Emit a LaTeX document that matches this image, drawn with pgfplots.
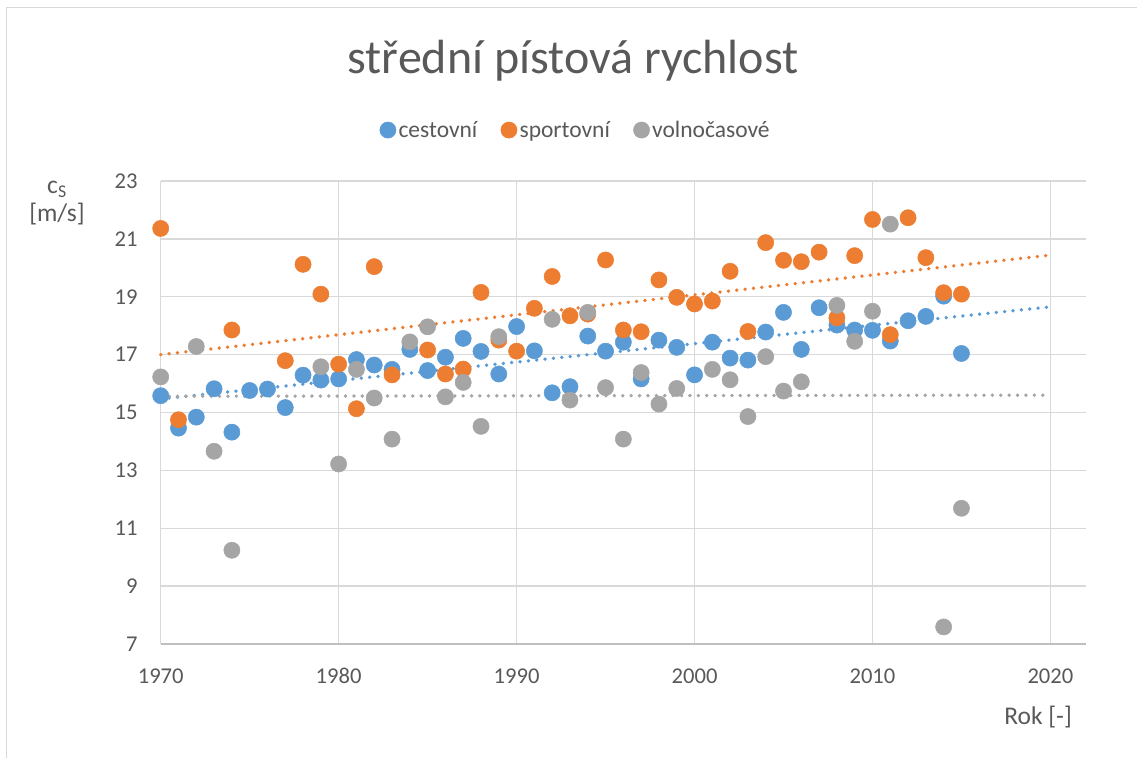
\documentclass[border=0pt]{standalone}
\usepackage{pgfplots}
\pgfplotsset{compat=1.18}
\usepackage{fontspec}
\setmainfont{Carlito}
\definecolor{cblue}{HTML}{5B9BD5}
\definecolor{corange}{HTML}{ED7D31}
\definecolor{cgray}{HTML}{A5A5A5}
\definecolor{txt}{HTML}{595959}
\definecolor{gridc}{HTML}{D9D9D9}
\definecolor{axc}{HTML}{BFBFBF}
\begin{document}
\begin{tikzpicture}[x=1bp,y=1bp]
\path[use as bounding box] (0,0) rectangle (1137,758);
\draw[gridc, line width=1bp] (6,0) -- (6,750) -- (1137,750);
\begin{axis}[
  at={(160.7bp,114bp)}, anchor=south west,
  scale only axis, width=925.3bp, height=463bp,
  xmin=1970, xmax=2022, ymin=7, ymax=23,
  xtick={1970,1980,...,2020}, ytick={7,9,...,23},
  axis x line*=bottom, axis y line*=left,
  x axis line style={axc, line width=1.3bp},
  y axis line style={gridc, line width=1.3bp},
  major tick length=0pt,
  grid=major, major grid style={gridc, line width=1.3bp},
  clip=false,
  /pgf/number format/.cd, 1000 sep={}, assume math mode=true, /pgfplots/.cd,
  ticklabel style={font=\fontsize{22.6bp}{27bp}\selectfont, text=txt},
  xticklabel style={anchor=center, inner sep=0pt, yshift=-31.8bp},
  yticklabel style={anchor=east, inner sep=0pt, xshift=-23bp},
  title={střední pístová rychlost},
  title style={at={(0.4456,1.2203)}, anchor=base, font=\fontsize{48bp}{50bp}\selectfont, text=txt},
  xlabel={Rok [-]},
  every axis x label/.style={at={(0.9849,-0.1749)}, anchor=base east, inner sep=0pt, font=\fontsize{25.5bp}{28bp}\selectfont, text=txt},
  ylabel={c\textsubscript{S}\\{}[m/s]},
  every axis y label/.style={at={(-0.1121,0.9518)}, anchor=center, align=center, inner sep=0pt, font=\fontsize{25.5bp}{28.4bp}\selectfont, text=txt},
  legend columns=3,
  legend style={at={(0.4488,1.110)}, anchor=center, draw=none, fill=none,
    font=\fontsize{23.5bp}{27bp}\selectfont, text=txt,
    nodes={inner sep=2.5bp},
    /tikz/every even column/.append style={column sep=21bp}},
]
\addplot[only marks, mark=*, mark size=8.1bp, mark options={fill=cblue, draw=cblue, line width=0.5bp}] coordinates {
(1970,15.58) (1971,14.46) (1972,14.84) (1973,15.82) (1974,14.32) (1975,15.76)
(1976,15.81) (1977,15.17) (1978,16.29) (1979,16.12) (1980,16.16) (1981,16.83)
(1982,16.64) (1983,16.49) (1984,17.18) (1985,16.45) (1986,16.91) (1987,17.56)
(1988,17.11) (1989,16.33) (1990,17.97) (1991,17.13) (1992,15.68) (1993,15.89)
(1994,17.64) (1995,17.12) (1996,17.43) (1997,16.16) (1998,17.50) (1999,17.25)
(2000,16.30) (2001,17.43) (2002,16.88) (2003,16.81) (2004,17.78) (2005,18.46)
(2006,17.18) (2007,18.62) (2008,18.02) (2009,17.85) (2010,17.84) (2011,17.47)
(2012,18.17) (2013,18.32) (2014,19.02) (2015,17.04)
};
\addlegendentry{cestovní}
\addplot[only marks, mark=*, mark size=8.1bp, mark options={fill=corange, draw=corange, line width=0.5bp}] coordinates {
(1970,21.36) (1971,14.75) (1974,17.85) (1977,16.79) (1978,20.12) (1979,19.09)
(1980,16.67) (1981,15.13) (1982,20.04) (1983,16.30) (1985,17.16) (1986,16.33)
(1987,16.50) (1988,19.15) (1989,17.50) (1990,17.12) (1991,18.60) (1992,19.70)
(1993,18.34) (1994,18.40) (1995,20.27) (1996,17.85) (1997,17.79) (1998,19.58)
(1999,18.98) (2000,18.75) (2001,18.85) (2002,19.88) (2003,17.80) (2004,20.87)
(2005,20.26) (2006,20.21) (2007,20.54) (2008,18.27) (2009,20.42) (2010,21.67)
(2011,17.69) (2012,21.73) (2013,20.35) (2014,19.14) (2015,19.09)
};
\addlegendentry{sportovní}
\addplot[only marks, mark=*, mark size=8.1bp, mark options={fill=cgray, draw=cgray, line width=0.5bp}] coordinates {
(1970,16.23) (1972,17.28) (1973,13.66) (1974,10.24) (1979,16.58) (1980,13.22)
(1981,16.49) (1982,15.50) (1983,14.08) (1984,17.44) (1985,17.96) (1986,15.54)
(1987,16.04) (1988,14.52) (1989,17.62) (1992,18.22) (1993,15.43) (1994,18.46)
(1995,15.86) (1996,14.08) (1997,16.38) (1998,15.29) (1999,15.83) (2001,16.49)
(2002,16.13) (2003,14.86) (2004,16.93) (2005,15.74) (2006,16.06) (2008,18.70)
(2009,17.46) (2010,18.50) (2011,21.51) (2014,7.59) (2015,11.69)
};
\addlegendentry{volnočasové}
\addplot[forget plot, cblue, line width=3.7bp, line cap=round, dash pattern=on 0.1bp off 8.3bp] coordinates {(1970,15.47) (2020,18.65)};
\addplot[forget plot, corange, line width=3.7bp, line cap=round, dash pattern=on 0.1bp off 8.3bp] coordinates {(1970,17.00) (2020,20.44)};
\addplot[forget plot, cgray, line width=3.7bp, line cap=round, dash pattern=on 0.1bp off 8.3bp] coordinates {(1970,15.56) (2020,15.60)};
\end{axis}
\end{tikzpicture}
\end{document}
